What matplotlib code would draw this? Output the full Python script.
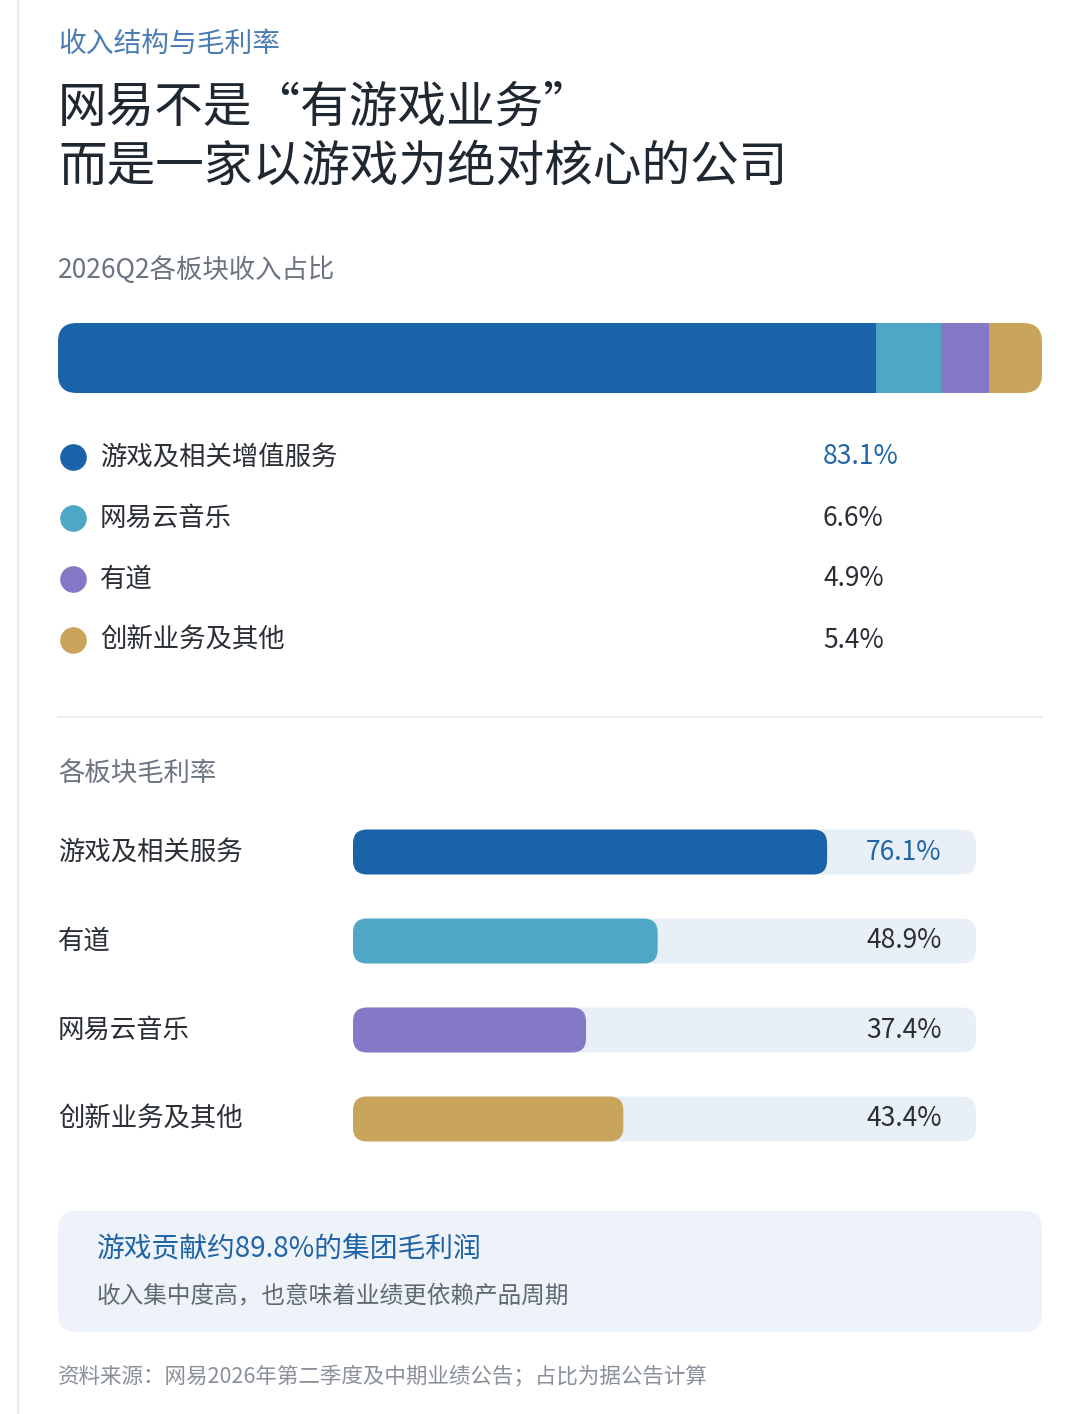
import matplotlib.pyplot as plt
from matplotlib.patches import FancyBboxPatch
import numpy as np

plt.rcParams['font.family'] = ['Noto Sans CJK SC', 'DejaVu Sans']

# 数据
share_names = ['游戏及相关增值服务', '网易云音乐', '有道', '创新业务及其他']
share_vals = [83.1, 6.6, 4.9, 5.4]
share_colors = ['#1a63a8', '#4ea7c4', '#8479c6', '#c9a55b']

margin_names = ['游戏及相关服务', '有道', '网易云音乐', '创新业务及其他']
margin_vals = [76.1, 48.9, 37.4, 43.4]
margin_colors = ['#1a63a8', '#4ea7c4', '#8479c6', '#c9a55b']

W, H = 1080, 1414
fig = plt.figure(figsize=(W / 100, H / 100), dpi=100)
fig.patch.set_facecolor('white')

def fy(py):
    return 1 - py / H

def add_ax(x0, y0, x1, y1):
    ax = fig.add_axes([x0 / W, 1 - y1 / H, (x1 - x0) / W, (y1 - y0) / H])
    ax.axis('off')
    return ax

# 背景装饰层
bg = add_ax(0, 0, W, H)
bg.set_xlim(0, W)
bg.set_ylim(H, 0)
bg.plot([18, 18], [0, H], color='#e9ecf0', lw=1.5)
bg.plot([58, 1042], [717, 717], color='#e6e9ee', lw=1.2)
bg.add_patch(FancyBboxPatch((58, 1211), 984, 121, boxstyle='round,pad=0,rounding_size=18',
                            fc='#eef3fa', ec='none'))

# 标题文字
fig.text(58 / W, fy(44), '收入结构与毛利率', fontsize=20, color='#4a7db3', va='center')
fig.text(58 / W, fy(108), '网易不是“有游戏业务”', fontsize=35, color='#1f2730', va='center')
fig.text(58 / W, fy(167), '而是一家以游戏为绝对核心的公司', fontsize=35, color='#1f2730', va='center')
fig.text(58 / W, fy(270), '2026Q2各板块收入占比', fontsize=19, color='#6b7480', va='center')

# 收入占比堆叠条
ax1 = add_ax(58, 323, 1042, 393)
ax1.set_xlim(0, sum(share_vals))
ax1.set_ylim(0, 1)
clip = FancyBboxPatch((0, 0), sum(share_vals), 1, boxstyle='round,pad=0,rounding_size=1.9',
                      mutation_aspect=0.14, fc='none', ec='none')
ax1.add_patch(clip)
left = 0
for v, c in zip(share_vals, share_colors):
    b = ax1.barh(0.5, v, left=left, height=1, color=c)
    for p in b:
        p.set_clip_path(clip)
    left += v

# 图例
for i, (n, v, c) in enumerate(zip(share_names, share_vals, share_colors)):
    py = 457 + i * 61
    bg.scatter([73], [py], s=330, color=c, zorder=3)
    fig.text(100 / W, fy(py), n, fontsize=19, color='#2a2f36', va='center')
    fig.text(823 / W, fy(py), f'{v}%', fontsize=19, va='center',
             color='#1f65a8' if i == 0 else '#2a2f36')

fig.text(58 / W, fy(773), '各板块毛利率', fontsize=19, color='#6b7480', va='center')

# 毛利率条形
ax2 = add_ax(353, 807.5, 976, 1163.5)
ax2.set_xlim(0, 100)
ax2.set_ylim(3.5, -0.5)
bh = 45 / 89
r = 14 / 6.23
asp = (14 / 89) / r
for i, (n, v, c) in enumerate(zip(margin_names, margin_vals, margin_colors)):
    ax2.add_patch(FancyBboxPatch((0, i - bh / 2), 100, bh, boxstyle=f'round,pad=0,rounding_size={r}',
                                 mutation_aspect=asp, fc='#e9eff7', ec='none'))
    ax2.add_patch(FancyBboxPatch((0, i - bh / 2), v, bh, boxstyle=f'round,pad=0,rounding_size={r}',
                                 mutation_aspect=asp, fc=c, ec='none'))
    ax2.text(94.5, i, f'{v}%', fontsize=19, ha='right', va='center',
             color='#1f65a8' if i == 0 else '#2a2f36')
    fig.text(58 / W, fy(852 + i * 89), n, fontsize=19, color='#2a2f36', va='center')

# 结论框
fig.text(97 / W, fy(1249), '游戏贡献约89.8%的集团毛利润', fontsize=20, color='#1f63a6', va='center')
fig.text(97 / W, fy(1297), '收入集中度高，也意味着业绩更依赖产品周期', fontsize=17, color='#5f6873', va='center')

fig.text(58 / W, fy(1377), '资料来源：网易2026年第二季度及中期业绩公告；占比为据公告计算',
         fontsize=15.5, color='#8a9099', va='center')

fig.savefig('out.png', dpi=100)
